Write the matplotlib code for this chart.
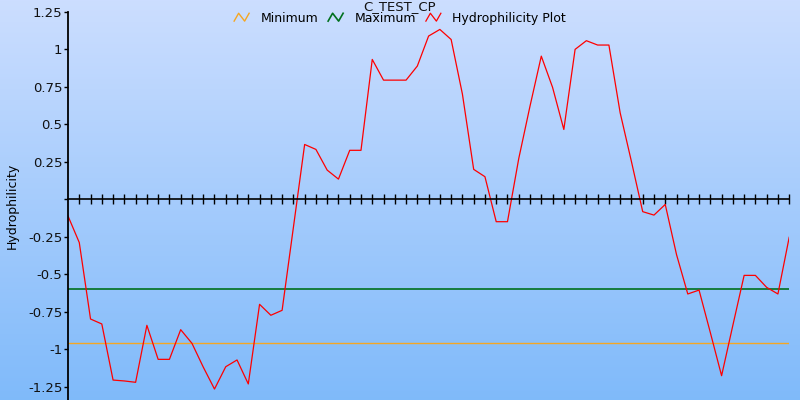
import numpy as np
import matplotlib
matplotlib.use("Agg")
import matplotlib.pyplot as plt
from matplotlib.lines import Line2D
from matplotlib.legend_handler import HandlerLine2D

# 数据
hydro = [-0.113, -0.29, -0.80, -0.833, -1.207, -1.213, -1.222, -0.842, -1.069, -1.069,
         -0.871, -0.962, -1.12, -1.267, -1.118, -1.073, -1.233, -0.702, -0.775, -0.742,
         -0.19, 0.364, 0.331, 0.193, 0.133, 0.325, 0.325, 0.931, 0.793, 0.793,
         0.793, 0.887, 1.087, 1.131, 1.064, 0.70, 0.198, 0.149, -0.151, -0.151,
         0.27, 0.62, 0.953, 0.745, 0.464, 0.998, 1.056, 1.027, 1.027, 0.575,
         0.25, -0.084, -0.107, -0.036, -0.37, -0.633, -0.607, -0.89, -1.178, -0.842,
         -0.509, -0.509, -0.589, -0.633, -0.255]
positions = list(range(len(hydro)))
minimum = -0.962
maximum = -0.602
ytick_vals = [1.25, 1, 0.75, 0.5, 0.25, 0, -0.25, -0.5, -0.75, -1, -1.25]
ytick_text = ['1.25', '1', '0.75', '0.5', '0.25', '', '-0.25', '-0.5', '-0.75', '-1', '-1.25']


# 图例里的折线小图标
class ZigZag(HandlerLine2D):
    def create_artists(self, legend, orig_handle, xdescent, ydescent, width, height, fontsize, trans):
        xs = np.array([0, 0.3, 0.7, 1.0]) * width - xdescent
        ys = np.array([0.1, 1.0, 0.1, 1.0]) * height - ydescent
        line = Line2D(xs, ys)
        self.update_prop(line, orig_handle, legend)
        line.set_transform(trans)
        return [line]


plt.rcParams['font.family'] = ['DejaVu Sans']
fig = plt.figure(figsize=(8, 4), dpi=100)

# 背景渐变
bg = fig.add_axes([0, 0, 1, 1], zorder=0)
top = np.array([0.80, 0.87, 1.0])
bot = np.array([0.50, 0.73, 0.98])
t = np.linspace(0, 1, 256)[:, None]
grad = top[None, :] * (1 - t) + bot[None, :] * t
bg.imshow(grad[:, None, :], aspect='auto', extent=[0, 1, 0, 1])
bg.axis('off')

ax = fig.add_axes([0.085, 0.0, 0.9015, 0.971], zorder=1)
ax.set_facecolor('none')

l_min, = ax.plot([positions[0], positions[-1]], [minimum, minimum], color='#F5A623', lw=1.0)
l_max, = ax.plot([positions[0], positions[-1]], [maximum, maximum], color='#00701E', lw=1.2)
l_h, = ax.plot(positions, hydro, color='red', lw=0.9)

ax.set_xlim(0, positions[-1])
ax.set_ylim(-1.34, 1.25)

ax.spines['top'].set_visible(False)
ax.spines['right'].set_visible(False)
ax.spines['bottom'].set_position(('data', 0))
ax.spines['bottom'].set_linewidth(1.2)
ax.spines['left'].set_linewidth(1.3)

ax.set_xticks(positions[1:])
ax.set_xticklabels([])
ax.tick_params(axis='x', direction='inout', length=7, width=1, color='black')

ax.set_yticks(ytick_vals)
ax.set_yticklabels(ytick_text, fontsize=9.5, color='#111111')
ax.tick_params(axis='y', direction='out', length=3, width=1, pad=1)

ax.set_ylabel('Hydrophilicity', fontsize=9, labelpad=7)

fig.text(0.5, 1 - 6.5 / 400, 'C_TEST_CP', ha='center', va='center', fontsize=9.5, color='#111111')
fig.legend([l_min, l_max, l_h], ['Minimum', 'Maximum', 'Hydrophilicity Plot'],
           loc='center', bbox_to_anchor=(0.5, 1 - 18.5 / 400), ncol=3, frameon=False,
           fontsize=9, handlelength=1.2, handletextpad=0.9, columnspacing=0.8,
           handler_map={Line2D: ZigZag()}, borderpad=0, borderaxespad=0)

fig.savefig('out.png', dpi=100)
